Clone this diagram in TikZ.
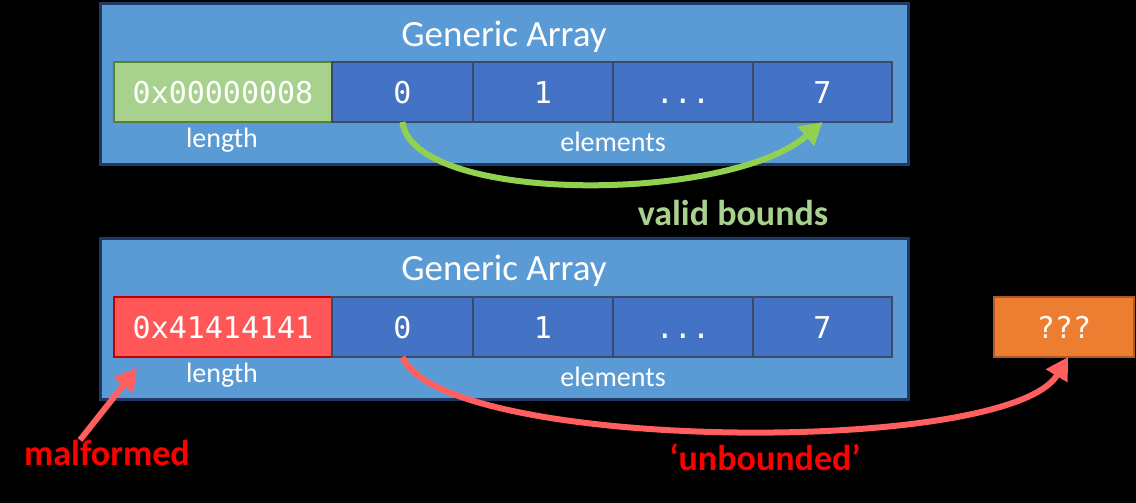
\documentclass[tikz,border=0pt]{standalone}
\usepackage{fontspec}
\setmainfont{Carlito}
\setmonofont{DejaVu Sans Mono}
\usetikzlibrary{arrows.meta,positioning}
\definecolor{night}{HTML}{000000}
\definecolor{framefill}{HTML}{5B9BD5}
\definecolor{frameline}{HTML}{1F3864}
\definecolor{cellfill}{HTML}{4472C4}
\definecolor{cellline}{HTML}{3B4A66}
\definecolor{okfill}{HTML}{A9D18E}
\definecolor{okline}{HTML}{548235}
\definecolor{badfill}{HTML}{FF5757}
\definecolor{badline}{HTML}{C00000}
\definecolor{oobfill}{HTML}{ED7D31}
\definecolor{oobline}{HTML}{AE5A21}
\definecolor{okarrow}{HTML}{92D050}
\definecolor{badarrow}{HTML}{FF5F5F}
\definecolor{badtext}{HTML}{FF0000}
\tikzset{
  arrframe/.style={draw=frameline,fill=framefill,line width=3pt,
                   minimum width=808pt,minimum height=161pt,inner sep=0pt},
  arrtitle/.style={text=white,inner sep=0pt,font=\fontsize{37}{44}\selectfont},
  cell/.style={draw=cellline,fill=cellfill,line width=2pt,outer sep=0pt,
               minimum height=60pt,inner sep=0pt,text=white,
               text height=22pt,text depth=0pt,
               font=\fontsize{30}{36}\selectfont\ttfamily},
  lenok/.style={cell,draw=okline,fill=okfill,minimum width=218pt},
  lenbad/.style={cell,draw=badline,fill=badfill,minimum width=218pt},
  oobcell/.style={cell,draw=oobline,fill=oobfill,minimum width=140pt},
  fieldlabel/.style={text=white,inner sep=0pt,font=\fontsize{28}{34}\selectfont},
  calltext/.style={inner sep=0pt,font=\fontsize{36}{43}\selectfont\bfseries},
  okarr/.style={-{Triangle[length=22pt,width=24pt]},line width=6pt,color=okarrow},
  badarr/.style={-{Triangle[length=22pt,width=24pt]},line width=6pt,color=badarrow}
}
\begin{document}
\begin{tikzpicture}[x=1pt,y=-1pt]
  \fill[night] (0,0) rectangle (1136,503);
  \useasboundingbox (0,0) rectangle (1136,503);

  % well formed array
  \node[arrframe] (topframe) at (504,84) {};
  \node[arrtitle] (toptitle) at (504,37) {Generic Array};
  \node[lenok] (lentop) at (223,92) {0x00000008};
  \node[cell,minimum width=141pt,right=0pt of lentop] (zerotop) {0};
  \node[cell,minimum width=140pt,right=0pt of zerotop] (onetop) {1};
  \node[cell,minimum width=140pt,right=0pt of onetop] (dotstop) {...};
  \node[cell,minimum width=139pt,right=0pt of dotstop] (seventop) {7};
  \node[fieldlabel] (lenlabtop) at (222,140) {length};
  \node[fieldlabel] (ellabtop) at (613,142) {elements};

  % corrupted array
  \node[arrframe] (botframe) at (504,319) {};
  \node[arrtitle] (bottitle) at (504,271) {Generic Array};
  \node[lenbad] (lenbot) at (223,327) {0x41414141};
  \node[cell,minimum width=141pt,right=0pt of lenbot] (zerobot) {0};
  \node[cell,minimum width=140pt,right=0pt of zerobot] (onebot) {1};
  \node[cell,minimum width=140pt,right=0pt of onebot] (dotsbot) {...};
  \node[cell,minimum width=139pt,right=0pt of dotsbot] (sevenbot) {7};
  \node[fieldlabel] (lenlabbot) at (222,375) {length};
  \node[fieldlabel] (ellabbot) at (613,377) {elements};
  \node[oobcell] (oob) at (1064,327) {???};

  % callouts
  \node[calltext,text=okfill] (validlab) at (733,213) {valid bounds};
  \node[calltext,text=badtext] (malflab) at (107,453) {malformed};
  \node[calltext,text=badtext] (unblab) at (765,457) {‘unbounded’};
  \coordinate (malftip) at (137,368);

  \draw[okarr] (zerotop.south) .. controls +(10,82) and +(-95,82) .. (seventop.south);
  \draw[badarr] (zerobot.south) .. controls +(40,95) and +(-60,100) .. ([xshift=4pt]oob.south);
  \draw[badarr] ([xshift=-27pt]malflab.north) -- (malftip);
\end{tikzpicture}
\end{document}
